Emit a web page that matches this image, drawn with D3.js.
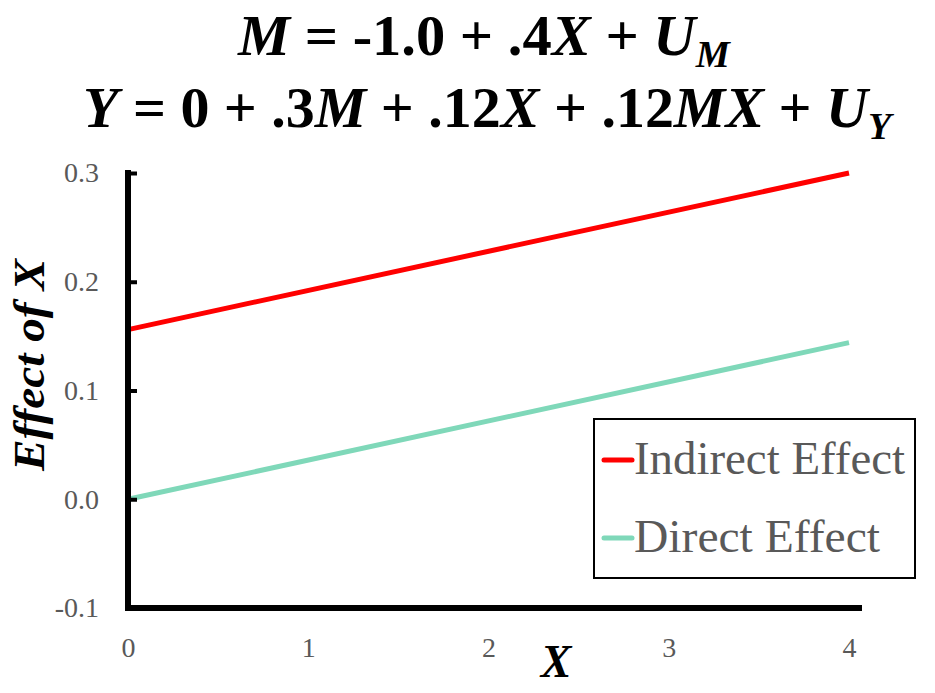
<!DOCTYPE html>
<html><head><meta charset="utf-8">
<script src="https://cdn.jsdelivr.net/npm/d3@7"></script>
<style>body{margin:0;background:#fff}svg{display:block}</style>
</head><body>
<svg id="c" width="935" height="693"></svg>
<script>
const xValues = [0, 4];
const indirectEffect = [0.156, 0.300];
const directEffect = [0.000, 0.144];
const xTicks = [0, 1, 2, 3, 4];
const yTicks = [-0.1, 0.0, 0.1, 0.2, 0.3];
const seriesNames = ["Indirect Effect", "Direct Effect"];
const seriesColors = ["#ff0000", "#7fd8b9"];
const titleLine1 = [["M",1,0],[" = -1.0 + .4",0,0],["X",1,0],[" + ",0,0],["U",1,0],["M",1,1]];
const titleLine2 = [["Y",1,0],[" = 0 + .3",0,0],["M",1,0],[" + .12",0,0],["X",1,0],[" + .12",0,0],["MX",1,0],[" + ",0,0],["U",1,0],["Y",1,1]];

const svg = d3.select("#c");
const serif = "Liberation Serif, Times New Roman, serif";
const x = d3.scaleLinear().domain([0, 4]).range([128, 849]);
const y = d3.scaleLinear().domain([-0.1, 0.3]).range([608, 173]);

// Title
function titleLine(parts, cx, baseline, targetW) {
  const t = svg.append("text").attr("x", 0).attr("y", 0)
    .attr("font-family", serif).attr("font-weight", "bold").attr("font-size", 58);
  let sub = false;
  parts.forEach(([s, it, sb]) => {
    const ts = t.append("tspan").text(s).attr("font-style", it ? "italic" : "normal");
    if (sb && !sub) { ts.attr("font-size", 38).attr("dy", 12); sub = true; }
  });
  const bb = t.node().getBBox();
  const sx = targetW / bb.width;
  t.attr("transform", `translate(${cx - sx * (bb.x + bb.width / 2)},${baseline}) scale(${sx},1)`);
}
titleLine(titleLine1, 484, 55, 494);
titleLine(titleLine2, 489, 127, 812);

// Lines
const line = d3.line().x((d, i) => x(xValues[i])).y(d => y(d));
[indirectEffect, directEffect].forEach((s, i) => {
  svg.append("path").datum(s).attr("d", line)
    .attr("fill", "none").attr("stroke", seriesColors[i]).attr("stroke-width", 5);
});

// Y axis
const fmtY = d => d3.format(".1f")(d).replace("\u2212", "-");
const yAxis = svg.append("g").attr("transform", `translate(${x(0)},0)`)
  .call(d3.axisLeft(y).tickValues(yTicks).tickFormat(fmtY).tickSizeInner(-9).tickSizeOuter(0).tickPadding(29));
yAxis.select(".domain").remove();
yAxis.selectAll(".tick line").attr("stroke", "#000").attr("stroke-width", 4);
yAxis.selectAll(".tick text").attr("font-family", serif).attr("font-size", 28).attr("fill", "#595959");
svg.append("line").attr("x1", x(0)).attr("x2", x(0)).attr("y1", y(0.3) - 3).attr("y2", y(-0.1) + 2)
  .attr("stroke", "#000").attr("stroke-width", 6);

// X axis
const xAxis = svg.append("g").attr("transform", `translate(0,${y(-0.1)})`)
  .call(d3.axisBottom(x).tickValues(xTicks).tickFormat(d3.format("d")).tickSize(0).tickPadding(29));
xAxis.select(".domain").remove();
xAxis.selectAll(".tick text").attr("font-family", serif).attr("font-size", 28).attr("fill", "#595959");
svg.append("line").attr("x1", x(0) - 3).attr("x2", x(4) + 13).attr("y1", y(-0.1)).attr("y2", y(-0.1))
  .attr("stroke", "#000").attr("stroke-width", 6);

// Axis titles
svg.append("text").attr("transform", `translate(44,365) rotate(-90)`).attr("text-anchor", "middle")
  .attr("font-family", serif).attr("font-weight", "bold").attr("font-style", "italic").attr("font-size", 44)
  .attr("textLength", 212).attr("lengthAdjust", "spacingAndGlyphs")
  .text("Effect of X");
svg.append("text").attr("x", 556).attr("y", 677).attr("text-anchor", "middle")
  .attr("font-family", serif).attr("font-weight", "bold").attr("font-style", "italic").attr("font-size", 46)
  .text("X");

// Legend
const lg = svg.append("g");
lg.append("rect").attr("x", 594).attr("y", 419).attr("width", 321).attr("height", 159)
  .attr("fill", "#fff").attr("stroke", "#000").attr("stroke-width", 2);
const legendW = [271, 246];
seriesNames.forEach((n, i) => {
  const cy = 460 + i * 78;
  lg.append("line").attr("x1", 604).attr("x2", 632).attr("y1", cy).attr("y2", cy)
    .attr("stroke", seriesColors[i]).attr("stroke-width", 5).attr("stroke-linecap", "round");
  lg.append("text").attr("x", 634).attr("y", cy + 14).attr("font-family", serif).attr("font-size", 46)
    .attr("textLength", legendW[i]).attr("lengthAdjust", "spacingAndGlyphs")
    .attr("fill", "#595959").text(n);
});
</script>
</body></html>
